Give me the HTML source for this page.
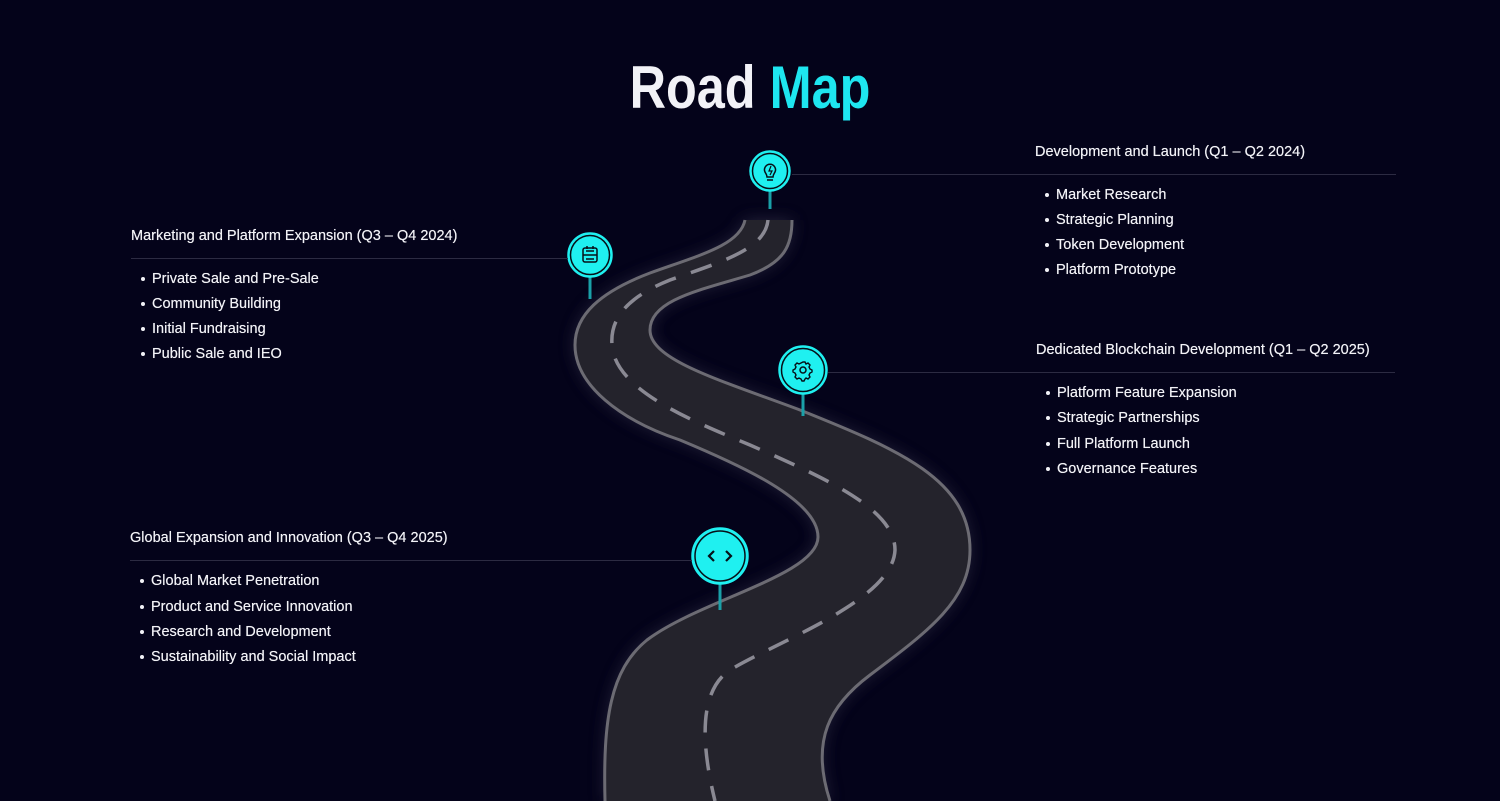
<!DOCTYPE html>
<html><head><meta charset="utf-8"><style>
body{margin:0;width:1500px;height:801px;background:#04031a;overflow:hidden;position:relative;font-family:"Liberation Sans",sans-serif;color:#f2f2f7}
.t{position:absolute;left:0;width:1500px;top:50px;text-align:center;font-size:60px;line-height:76px;font-weight:bold;transform:scaleX(0.84);}
.h{position:absolute;font-size:14.5px;white-space:nowrap;line-height:18px;text-shadow:0 0 0.4px #fff}
.b{position:absolute;font-size:14.5px;white-space:nowrap;line-height:18px;text-shadow:0 0 0.4px #fff}
.b:before{content:"";position:absolute;left:-11px;top:7px;width:4px;height:4px;border-radius:50%;background:#f2f2f7}
.l{position:absolute;height:1px;background:#2c2b42}
</style></head><body>
<svg width="1500" height="801" style="position:absolute;left:0;top:0">
<defs><filter id="g" x="-50%" y="-50%" width="200%" height="200%"><feGaussianBlur stdDeviation="8"/></filter>
<linearGradient id="rf" x1="0" y1="210" x2="0" y2="250" gradientUnits="userSpaceOnUse"><stop offset="0" stop-color="#24232c" stop-opacity="0.2"/><stop offset="1" stop-color="#24232c" stop-opacity="1"/></linearGradient></defs>
<path d="M745,220 C740,245 700,255 650,273 C600,292 575,315 575,345 C575,385 620,420 680,440 C740,465 818,500 818,537 C818,575 700,600 647,640 C610,670 603,720 605,801 L830,801 C810,740 830,705 870,675 C930,630 970,600 970,550 C970,480 900,450 800,410 C720,380 650,360 650,330 C650,300 700,290 750,275 C785,262 792,245 792,220 Z" fill="#3a3850" filter="url(#g)" opacity="0.6"/>
<path d="M745,220 C740,245 700,255 650,273 C600,292 575,315 575,345 C575,385 620,420 680,440 C740,465 818,500 818,537 C818,575 700,600 647,640 C610,670 603,720 605,801 L830,801 C810,740 830,705 870,675 C930,630 970,600 970,550 C970,480 900,450 800,410 C720,380 650,360 650,330 C650,300 700,290 750,275 C785,262 792,245 792,220 Z" fill="#24232c"/>
<g fill="none" stroke="#6c6b73" stroke-width="3">
<path d="M745,220 C740,245 700,255 650,273 C600,292 575,315 575,345 C575,385 620,420 680,440 C740,465 818,500 818,537 C818,575 700,600 647,640 C610,670 603,720 605,801"/>
<path d="M830,801 C810,740 830,705 870,675 C930,630 970,600 970,550 C970,480 900,450 800,410 C720,380 650,360 650,330 C650,300 700,290 750,275 C785,262 792,245 792,220"/>
</g>
<path d="M768,220 C765,250 720,262 670,280 C625,298 610,320 612,345 C615,390 690,420 750,445 C830,480 895,510 895,550 C893,600 780,640 730,670 C700,690 700,740 715,801" fill="none" stroke="#8a8993" stroke-width="3.5" stroke-dasharray="22 16"/>
<g stroke="#1aa0a8" stroke-width="3">
<line x1="770" y1="190" x2="770" y2="209"/><line x1="590" y1="275" x2="590" y2="299"/><line x1="803" y1="391" x2="803" y2="416"/><line x1="720" y1="582" x2="720" y2="610"/></g>
<g fill="#1ff0f0" stroke="#1ff0f0" stroke-width="1.5">
<circle cx="770" cy="171" r="20"/><circle cx="590" cy="255" r="22"/><circle cx="803" cy="370" r="24"/><circle cx="720" cy="556" r="28"/></g>
<g fill="none" stroke="#061018" stroke-width="1.5">
<circle cx="770" cy="171" r="17.5"/><circle cx="590" cy="255" r="19.5"/><circle cx="803" cy="370" r="21.5"/><circle cx="720" cy="556" r="25"/>
<path d="M765,172 a5.5,5.5 0 1 1 10,0 c-1,2 -2,3 -2,5 h-6 c0,-2 -1,-3 -2,-5z M767,180 h6"/>
<path d="M771,166 l-2,5 h3 l-2,4" stroke-width="1.2"/>
<rect x="583" y="248" width="14" height="14" rx="2"/><path d="M583,255 h14 M586,251 h8 M586,259 h8 M587,246 v3 M593,246 v3"/>
<circle cx="803" cy="370" r="3"/><path d="M803,362 l2,0 l1,2 l2,-1 l2,2 l-1,2 l1,2 l2,1 v2 l-2,1 l-1,2 l1,2 l-2,2 l-2,-1 l-1,1 l-1,2 h-2 l-1,-2 l-2,-1 l-2,1 l-2,-2 l1,-2 l-1,-2 l-2,-1 v-2 l2,-1 l1,-2 l-1,-2 l2,-2 l2,1 l2,-1 z" stroke-width="1.4"/>
<path d="M714,551 l-5,5 l5,5 M726,551 l5,5 l-5,5" stroke-width="2.2"/>
</g>
</svg>
<div class="t">Road <span style="color:#1ee6f0">Map</span></div>

<div class="h" style="left:1035px;top:143px">Development and Launch (Q1 – Q2 2024)</div>
<div class="l" style="left:792px;top:174px;width:604px"></div>
<div class="b" style="left:1056px;top:186px">Market Research</div>
<div class="b" style="left:1056px;top:211px">Strategic Planning</div>
<div class="b" style="left:1056px;top:236px">Token Development</div>
<div class="b" style="left:1056px;top:261px">Platform Prototype</div>

<div class="h" style="left:131px;top:227px">Marketing and Platform Expansion (Q3 – Q4 2024)</div>
<div class="l" style="left:131px;top:258px;width:437px"></div>
<div class="b" style="left:152px;top:270px">Private Sale and Pre-Sale</div>
<div class="b" style="left:152px;top:295px">Community Building</div>
<div class="b" style="left:152px;top:320px">Initial Fundraising</div>
<div class="b" style="left:152px;top:345px">Public Sale and IEO</div>

<div class="h" style="left:1036px;top:341px">Dedicated Blockchain Development (Q1 – Q2 2025)</div>
<div class="l" style="left:828px;top:372px;width:567px"></div>
<div class="b" style="left:1057px;top:384px">Platform Feature Expansion</div>
<div class="b" style="left:1057px;top:409px">Strategic Partnerships</div>
<div class="b" style="left:1057px;top:435px">Full Platform Launch</div>
<div class="b" style="left:1057px;top:460px">Governance Features</div>

<div class="h" style="left:130px;top:529px">Global Expansion and Innovation (Q3 – Q4 2025)</div>
<div class="l" style="left:130px;top:560px;width:562px"></div>
<div class="b" style="left:151px;top:572px">Global Market Penetration</div>
<div class="b" style="left:151px;top:598px">Product and Service Innovation</div>
<div class="b" style="left:151px;top:623px">Research and Development</div>
<div class="b" style="left:151px;top:648px">Sustainability and Social Impact</div>
</body></html>
